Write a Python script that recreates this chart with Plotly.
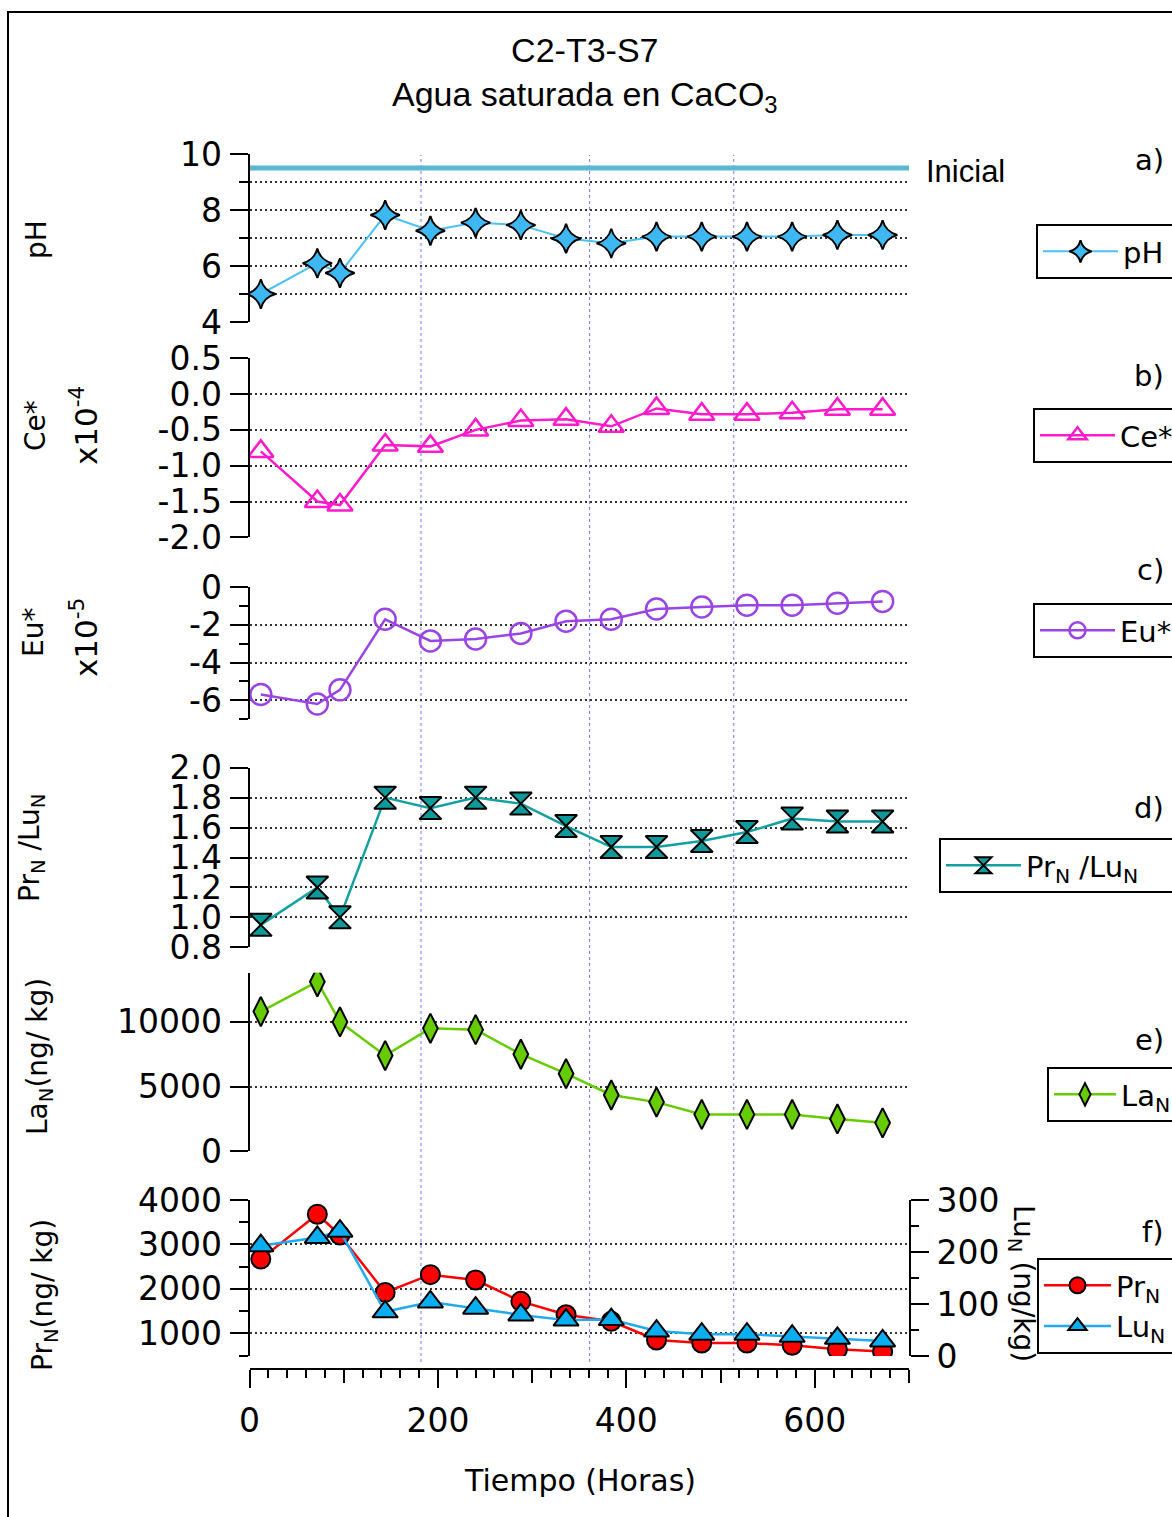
import plotly.graph_objects as go

W, H = 1172, 1517


def px(x):
    return x / W


def py(y):
    return 1 - y / H


# ---------------- data ----------------
hours = [12, 72, 96, 144, 192, 240, 288, 336, 384, 432, 480, 528, 576, 624, 672]
ph = [5.0, 6.1, 5.75, 7.82, 7.26, 7.55, 7.46, 6.98, 6.81, 7.05, 7.05, 7.05, 7.05, 7.11, 7.11]
ph_initial = 9.5
ce_star = [-0.80, -1.50, -1.55, -0.71, -0.73, -0.50, -0.37, -0.35, -0.45, -0.20, -0.28, -0.28, -0.26, -0.21, -0.21]  # x1e-4
eu_star = [-5.7, -6.2, -5.45, -1.7, -2.85, -2.75, -2.45, -1.8, -1.7, -1.15, -1.05, -0.95, -0.95, -0.85, -0.75]  # x1e-5
pr_lu = [0.95, 1.2, 1.0, 1.8, 1.73, 1.8, 1.76, 1.61, 1.47, 1.47, 1.51, 1.57, 1.66, 1.64, 1.64]
la_n = [10800, 13100, 10000, 7400, 9500, 9400, 7500, 6000, 4350, 3800, 2850, 2850, 2850, 2500, 2200]
pr_n = [2670, 3680, 3210, 1920, 2320, 2200, 1720, 1420, 1270, 850, 780, 780, 730, 640, 590]
lu_n = [212, 228, 240, 85, 104, 92, 79, 69, 70, 48, 42, 42, 38, 34, 29]
ref_hours = [182, 361, 514]
x_range = [0, 700]

# tick labels
x_ticks = [0, 200, 400, 600]
x_mid_ticks = [100, 300, 500, 700]
ph_ticks = [4, 6, 8, 10]
ph_minor = [5, 7, 9]
ce_ticks = [0.5, 0.0, -0.5, -1.0, -1.5, -2.0]
ce_text = ["0.5", "0.0", "-0.5", "-1.0", "-1.5", "-2.0"]
eu_ticks = [0, -2, -4, -6]
eu_text = ["0", "-2", "-4", "-6"]
eu_minor = [-1, -3, -5, -7]
prlu_ticks = [0.8, 1.0, 1.2, 1.4, 1.6, 1.8, 2.0]
prlu_text = ["0.8", "1.0", "1.2", "1.4", "1.6", "1.8", "2.0"]
la_ticks = [0, 5000, 10000]
la_text = ["0", "5000", "10000"]
pr_ticks = [1000, 2000, 3000, 4000]
pr_text = ["1000", "2000", "3000", "4000"]
pr_minor = [500, 1500, 2500, 3500]
lu_ticks = [0, 100, 200, 300]
lu_minor = [50, 150, 250]

TICKFONT = dict(family="DejaVu Sans", size=33, color="black")
LABFONT = dict(family="DejaVu Sans", size=28, color="black")
X10FONT = dict(family="DejaVu Sans", size=31, color="black")
GRIDC = "#333333"
GRIDDASH = "2px,3px"
PAD = "\u00a0" * 6  # legend boxes run past the right edge, as in the original

fig = go.Figure()

# a) pH
fig.add_trace(go.Scatter(x=x_range, y=[ph_initial, ph_initial], mode="lines",
                         line=dict(color="#5BB8D0", width=5), showlegend=False,
                         xaxis="x", yaxis="y", hoverinfo="skip"))
fig.add_trace(go.Scatter(x=hours, y=ph, mode="lines+markers", name="pH" + PAD,
                         line=dict(color="#4DC0F5", width=2),
                         marker=dict(symbol="star-diamond", size=21, color="#3DB8F2",
                                     line=dict(color="black", width=2)),
                         xaxis="x", yaxis="y", legend="legend"))
# b) Ce*
fig.add_trace(go.Scatter(x=hours, y=ce_star, mode="lines+markers", name="Ce*" + PAD,
                         line=dict(color="#FF1ACB", width=2.5),
                         marker=dict(symbol="triangle-up-open", size=22, color="#FF1ACB",
                                     line=dict(color="#FF1ACB", width=2.5)),
                         xaxis="x2", yaxis="y2", legend="legend2"))
# c) Eu*
fig.add_trace(go.Scatter(x=hours, y=eu_star, mode="lines+markers", name="Eu*" + PAD,
                         line=dict(color="#9A44E6", width=2.5),
                         marker=dict(symbol="circle-open", size=21, color="#9A44E6",
                                     line=dict(color="#9A44E6", width=2.5)),
                         xaxis="x3", yaxis="y3", legend="legend3"))
# d) PrN/LuN
fig.add_trace(go.Scatter(x=hours, y=pr_lu, mode="lines+markers",
                         name="Pr<sub>N</sub> /Lu<sub>N</sub>" + PAD,
                         line=dict(color="#14A0A0", width=2.5),
                         marker=dict(symbol="hourglass", size=22, color="#0E9A9A",
                                     line=dict(color="black", width=2)),
                         xaxis="x4", yaxis="y4", legend="legend4"))
# e) LaN
fig.add_trace(go.Scatter(x=hours, y=la_n, mode="lines+markers", name="La<sub>N</sub>" + PAD,
                         line=dict(color="#66CC00", width=2.5),
                         marker=dict(symbol="diamond-tall", size=21, color="#66CC00",
                                     line=dict(color="black", width=2)),
                         xaxis="x5", yaxis="y5", legend="legend5"))
# f) PrN, LuN
fig.add_trace(go.Scatter(x=hours, y=pr_n, mode="lines+markers", name="Pr<sub>N</sub>" + PAD,
                         line=dict(color="#FF0000", width=2.5),
                         marker=dict(symbol="circle", size=19, color="#FF0000",
                                     line=dict(color="black", width=2)),
                         xaxis="x6", yaxis="y6", legend="legend6"))
fig.add_trace(go.Scatter(x=hours, y=lu_n, mode="lines+markers", name="Lu<sub>N</sub>" + PAD,
                         line=dict(color="#22AAEE", width=2.5),
                         marker=dict(symbol="triangle-up", size=22, color="#0AAEF0",
                                     line=dict(color="black", width=2)),
                         xaxis="x6", yaxis="y7", legend="legend6"))
# helper trace so the medium-tick overlay axis is drawn
fig.add_trace(go.Scatter(x=[], y=[], xaxis="x7", yaxis="y6", showlegend=False, hoverinfo="skip"))

XDOM = [px(249.5), px(909)]


def hidden_x(anchor):
    return dict(domain=XDOM, range=x_range, visible=False, anchor=anchor)


def yax(dom, rng, tickvals, ticktext=None, minor=None, grid_minor=False, anchor="x"):
    d = dict(domain=dom, range=rng, anchor=anchor, showline=True, linecolor="black",
             linewidth=2, ticks="outside", ticklen=18, tickwidth=2, tickcolor="black",
             showgrid=True, gridcolor=GRIDC, gridwidth=1.5, griddash=GRIDDASH,
             zeroline=False, tickfont=TICKFONT, tickmode="array", tickvals=tickvals,
             ticklabelstandoff=1)
    if ticktext is not None:
        d["ticktext"] = ticktext
    if minor is not None:
        d["minor"] = dict(tickmode="array", tickvals=minor, ticks="outside", ticklen=9,
                          tickwidth=2, tickcolor="black", showgrid=grid_minor,
                          gridcolor=GRIDC, gridwidth=1.5, griddash=GRIDDASH)
    return d


XPOS = py(1369)

layout = dict(
    width=W, height=H,
    margin=dict(l=0, r=0, t=0, b=0, autoexpand=False),
    plot_bgcolor="white", paper_bgcolor="white",
    xaxis=hidden_x("y"),
    xaxis2=hidden_x("y2"),
    xaxis3=hidden_x("y3"),
    xaxis4=hidden_x("y4"),
    xaxis5=hidden_x("y5"),
    xaxis6=dict(domain=XDOM, range=x_range, anchor="free", position=XPOS,
                showline=True, linecolor="black", linewidth=2, ticks="outside",
                ticklen=18, tickwidth=2, tickcolor="black", showgrid=False,
                zeroline=False, tickmode="array", tickvals=x_ticks, tickfont=TICKFONT,
                ticklabelstandoff=4,
                minor=dict(tickmode="linear", tick0=0, dtick=20, ticks="outside",
                           ticklen=8, tickwidth=2, tickcolor="black", showgrid=False)),
    xaxis7=dict(domain=XDOM, range=x_range, overlaying="x6", anchor="free", position=XPOS,
                showline=False, ticks="outside", ticklen=13, tickwidth=2, tickcolor="black",
                showgrid=False, zeroline=False, showticklabels=False, tickmode="array",
                tickvals=x_mid_ticks),
    yaxis=yax([py(322), py(154)], [4, 10], ph_ticks, minor=ph_minor, grid_minor=True, anchor="x"),
    yaxis2=yax([py(537.3), py(358.3)], [-2.0, 0.5], ce_ticks, ce_text, anchor="x2"),
    yaxis3=yax([py(719), py(587.3)], [-7, 0], eu_ticks, eu_text, minor=eu_minor, anchor="x3"),
    yaxis4=yax([py(947.3), py(767.7)], [0.8, 2.0], prlu_ticks, prlu_text, anchor="x4"),
    yaxis5=yax([py(1151.3), py(972.7)], [0, 13800], la_ticks, la_text, anchor="x5"),
    yaxis6=yax([py(1356), py(1200)], [490, 4000], pr_ticks, pr_text, minor=pr_minor, anchor="x6"),
    yaxis7=dict(domain=[py(1356), py(1200)], range=[0, 300], overlaying="y6", side="right",
                anchor="x6", showline=True, linecolor="black", linewidth=2, ticks="outside",
                ticklen=18, tickwidth=2, tickcolor="black", showgrid=False, zeroline=False,
                tickmode="array", tickvals=lu_ticks, tickfont=TICKFONT, ticklabelstandoff=1,
                minor=dict(tickmode="array", tickvals=lu_minor, ticks="outside", ticklen=8,
                           tickwidth=2, tickcolor="black", showgrid=False)),
)

LEG = dict(xanchor="left", yanchor="top", bordercolor="black", borderwidth=2,
           bgcolor="white", font=dict(family="DejaVu Sans", size=29, color="black"),
           itemwidth=75, tracegroupgap=0)
layout["legend"] = dict(LEG, x=px(1036), y=py(224))
layout["legend2"] = dict(LEG, x=px(1033), y=py(408))
layout["legend3"] = dict(LEG, x=px(1033), y=py(603))
layout["legend4"] = dict(LEG, x=px(939), y=py(838))
layout["legend5"] = dict(LEG, x=px(1047), y=py(1067), itemwidth=62)
layout["legend6"] = dict(LEG, x=px(1037), y=py(1258), itemwidth=67)

fig.update_layout(**layout)

# annotations
ann = []
ann.append(dict(x=px(585), y=py(74), xref="paper", yref="paper", showarrow=False,
                xanchor="center", yanchor="middle",
                text="C2-T3-S7<br>Agua saturada en CaCO<sub>3</sub>", align="center",
                font=dict(family="Liberation Sans", size=34, color="black")))
ann.append(dict(x=px(924), y=py(171), xref="paper", yref="paper", showarrow=False,
                xanchor="left", yanchor="middle", text="Inicial",
                font=dict(family="Liberation Sans", size=31, color="black")))
for lab, yy in [("a)", 160), ("b)", 376), ("c)", 570), ("d)", 808), ("e)", 1040), ("f)", 1232)]:
    ann.append(dict(x=px(1166), y=py(yy), xref="paper", yref="paper", showarrow=False,
                    xanchor="right", yanchor="middle", text=lab,
                    font=dict(family="DejaVu Sans", size=29, color="black")))

ytitles = [
    ("pH", 36, 240, LABFONT),
    ("Ce*", 35, 426, LABFONT),
    ("x10<sup>-4</sup>", 84, 426, X10FONT),
    ("Eu*", 33, 633, LABFONT),
    ("x10<sup>-5</sup>", 84, 638, X10FONT),
    ("Pr<sub>N</sub> /Lu<sub>N</sub>", 31, 848, LABFONT),
    ("La<sub>N</sub>(ng/ kg)", 39, 1057, LABFONT),
    ("Pr<sub>N</sub>(ng/ kg)", 44, 1295, LABFONT),
]
for t, xx, yy, f in ytitles:
    ann.append(dict(x=px(xx), y=py(yy), xref="paper", yref="paper", showarrow=False,
                    xanchor="center", yanchor="middle",
                    text=t, textangle=-90, font=f))
ann.append(dict(x=px(1022), y=py(1283), xref="paper", yref="paper", showarrow=False,
                xanchor="center", yanchor="middle",
                text="Lu<sub>N</sub> (ng/kg)", textangle=90, font=LABFONT))
ann.append(dict(x=px(580), y=py(1480), xref="paper", yref="paper", showarrow=False,
                xanchor="center", yanchor="middle",
                text="Tiempo (Horas)", font=dict(family="DejaVu Sans", size=30, color="black")))
fig.update_layout(annotations=ann)

# shapes: reference vertical lines and outer frame
shapes = []
for h in ref_hours:
    shapes.append(dict(type="line", xref="x6", yref="paper", x0=h, x1=h,
                       y0=py(1362), y1=py(155),
                       line=dict(color="#6C7CFF", width=1, dash="dot"), layer="below"))
shapes.append(dict(type="rect", xref="paper", yref="paper", x0=px(8), x1=px(1200),
                   y0=py(1540), y1=py(12), line=dict(color="black", width=2)))
fig.update_layout(shapes=shapes)

fig.write_html("out.html", config={"displayModeBar": False},
               post_script="document.body.style.margin='0';document.body.style.padding='0';")
